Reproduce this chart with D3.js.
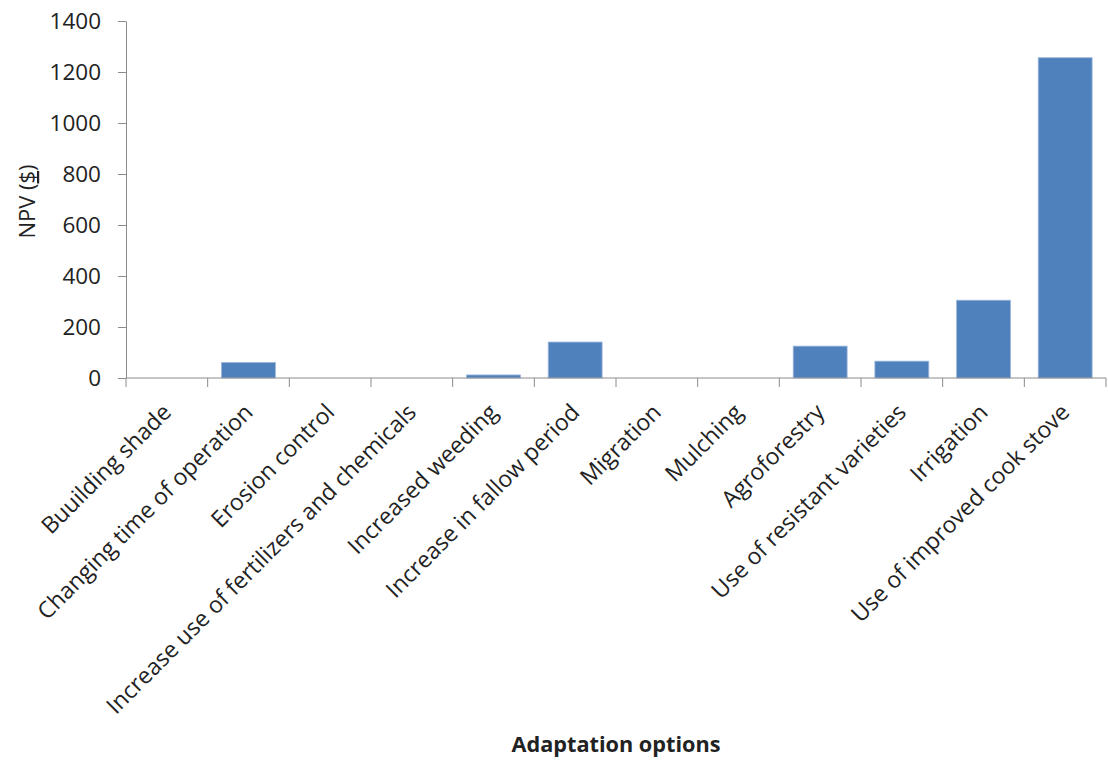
<!DOCTYPE html>
<html>
<head>
<meta charset="utf-8">
<script src="https://cdn.jsdelivr.net/npm/d3@7"></script>
<style>
  body { margin: 0; background: #fff; }
  text { font-family: "Open Sans", sans-serif; fill: #222; }
</style>
</head>
<body>
<svg id="chart" width="1108" height="761"></svg>
<script>
// values
const options = [
  "Buuilding shade",
  "Changing time of operation",
  "Erosion control",
  "Increase use of fertilizers and chemicals",
  "Increased weeding",
  "Increase in fallow period",
  "Migration",
  "Mulching",
  "Agroforestry",
  "Use of resistant varieties",
  "Irrigation",
  "Use of improved cook stove"
]
const npv = [0, 61, 0, 0, 12, 141, 0, 0, 125, 66, 305, 1256]
const yTicks = [0, 200, 400, 600, 800, 1000, 1200, 1400]

const svg = d3.select('#chart')
const margin = {top: 21, right: 2, bottom: 383, left: 126}
const width = 1108
const height = 761
const graphWidth = width - margin.left - margin.right
const graphHeight = height - margin.top - margin.bottom

const xScale = d3.scaleBand().domain(options).range([0, graphWidth]).paddingInner(0.34).paddingOuter(0.17)
const yScale = d3.scaleLinear().domain([0, 1400]).range([graphHeight, 0])

const g = svg.append('g').attr('transform', `translate(${margin.left}, ${margin.top})`)

// bars
g.selectAll('rect')
  .data(options)
  .enter()
  .append('rect')
  .attr('x', d => xScale(d))
  .attr('y', (d, i) => yScale(npv[i]))
  .attr('width', xScale.bandwidth())
  .attr('height', (d, i) => graphHeight - yScale(npv[i]))
  .attr('fill', '#4f81bd')
  .attr('stroke', '#9db7dc')
  .attr('stroke-width', 0.8)

// y axis
const yAxis = g.append('g')
  .call(d3.axisLeft(yScale).tickValues(yTicks).tickFormat(d3.format('d')).tickSize(8).tickSizeOuter(0).tickPadding(17))
yAxis.select('.domain').attr('stroke', '#8c8c8c')
yAxis.selectAll('.tick line').attr('stroke', '#8c8c8c')
yAxis.selectAll('.tick text').attr('font-size', 22.5).attr('font-family', '"Open Sans", sans-serif').attr('fill', '#222')

// x axis - ticks at band boundaries
const xAxisG = g.append('g').attr('transform', `translate(0, ${graphHeight})`)
xAxisG.append('line')
  .attr('x1', 0).attr('x2', graphWidth)
  .attr('stroke', '#8c8c8c')
const edges = d3.range(options.length + 1).map(i => i * graphWidth / options.length)
xAxisG.selectAll('.xtick')
  .data(edges)
  .enter()
  .append('line')
  .attr('x1', d => d).attr('x2', d => d)
  .attr('y1', 0).attr('y2', 9)
  .attr('stroke', '#8c8c8c')

xAxisG.selectAll('.xlabel')
  .data(options)
  .enter()
  .append('text')
  .attr('text-anchor', 'end')
  .attr('font-size', 23)
  .attr('transform', d => `translate(${xScale(d) + xScale.bandwidth() / 2}, 30) rotate(-45)`)
  .attr('dy', '0.35em')
  .text(d => d)

// axis titles
const yTitle = svg.append('text')
  .attr('transform', `translate(35, ${margin.top + graphHeight / 2 + 2}) rotate(-90)`)
  .attr('text-anchor', 'middle')
  .attr('font-size', 22)
yTitle.append('tspan').text('NPV (')
yTitle.append('tspan').attr('text-decoration', 'underline').text('$')
yTitle.append('tspan').text(')')

svg.append('text')
  .attr('x', margin.left + graphWidth / 2)
  .attr('y', 752)
  .attr('text-anchor', 'middle')
  .attr('font-size', 21.7)
  .attr('font-weight', 'bold')
  .text('Adaptation options')
</script>
</body>
</html>
